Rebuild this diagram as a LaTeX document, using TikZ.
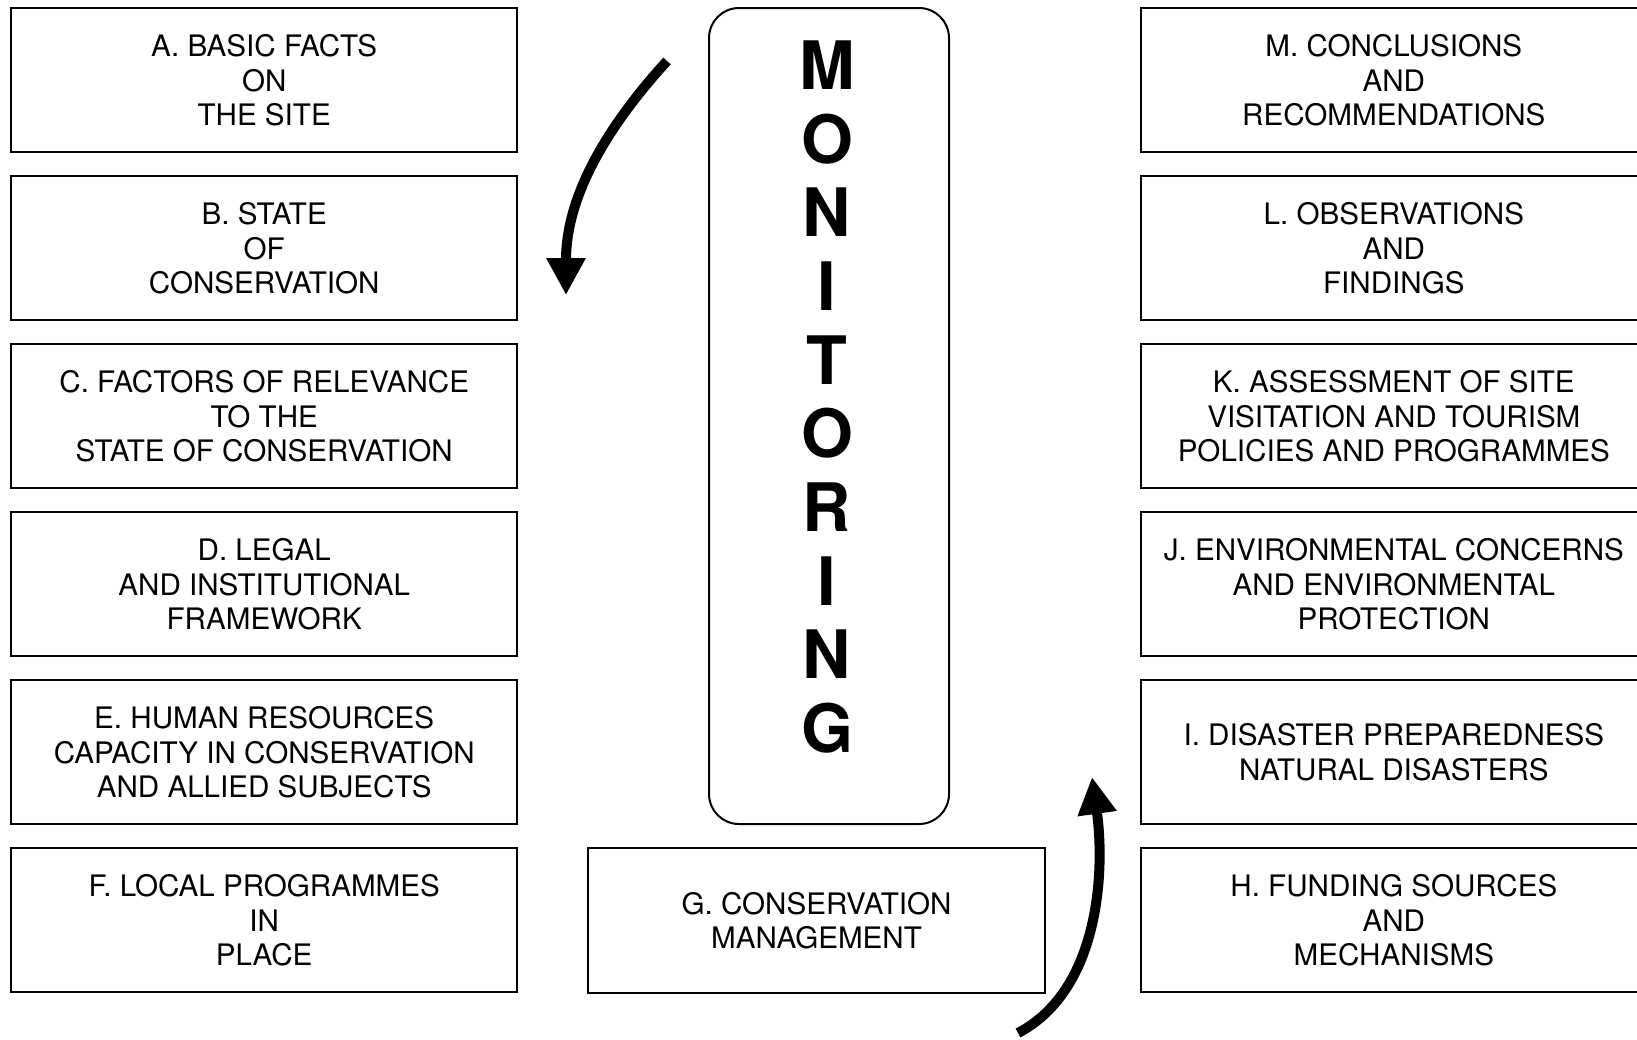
\documentclass[tikz,border=0pt]{standalone}
\usepackage{fontspec}
\setmainfont{TeX Gyre Heros}
\usetikzlibrary{
    arrows.meta,
    chains,
    positioning,
    scopes,
}
\tikzstyle{box}=[draw,rectangle,line width=1pt,align=center,font=\fontsize{14.8}{17.3}\selectfont,inner sep=1mm,minimum width=252.8pt,minimum height=72pt,execute at begin node={\rule{0pt}{14pt}}]
\tikzstyle{rect}=[box,on chain]
\tikzstyle{letter}=[font=\fontsize{33.4}{36}\selectfont\bfseries,inner sep=0pt]
\tikzstyle{bigarrow}=[line width=5pt,-{Triangle[length=18.5pt,width=18.5pt]}]

\begin{document}
\begin{tikzpicture}[x=0.5pt,y=-0.5pt]
                \useasboundingbox (0,0) rectangle (1637,1039);
                \clip (0,0) rectangle (1637,1039);
                \begin{scope}[start chain=going below,node distance=11pt]
                    \node[rect,anchor=north west] (a) at (10.4,7.3) {A. BASIC FACTS\\ON\\THE SITE};
                    \node[rect] (b) {B. STATE\\OF\\CONSERVATION};
                    \node[rect] (c) {C. FACTORS OF RELEVANCE\\TO THE\\STATE OF CONSERVATION};
                    \node[rect] (d) {D. LEGAL\\AND INSTITUTIONAL\\FRAMEWORK};
                    \node[rect] (e) {E. HUMAN RESOURCES\\CAPACITY IN CONSERVATION\\AND ALLIED SUBJECTS};
                    \node[rect] (f) {F. LOCAL PROGRAMMES\\IN\\PLACE};
                \end{scope}
                \begin{scope}[start chain=going below,node distance=11pt]
                    \node[rect,anchor=north west] (m) at (1140,7.3) {M. CONCLUSIONS\\AND\\RECOMMENDATIONS};
                    \node[rect] (l) {L. OBSERVATIONS\\AND\\FINDINGS};
                    \node[rect] (k) {K. ASSESSMENT OF SITE\\VISITATION AND TOURISM\\POLICIES AND PROGRAMMES};
                    \node[rect] (j) {J. ENVIRONMENTAL CONCERNS\\AND ENVIRONMENTAL\\PROTECTION};
                    \node[rect] (i) {I. DISASTER PREPAREDNESS\\NATURAL DISASTERS};
                    \node[rect] (h) {H. FUNDING SOURCES\\AND\\MECHANISMS};
                \end{scope}
                \node[box,anchor=north west,minimum width=228.5pt,minimum height=72.5pt] (g) at (587,847) {G. CONSERVATION\\MANAGEMENT};
                \node[draw,line width=1pt,rounded corners=15pt,anchor=north west,minimum width=120pt,minimum height=408pt] (monitor) at (708,7) {};
                \foreach \ch [count=\n] in {M,O,N,I,T,O,R,I,N,G}
                    \node[letter] (m\n) at (827,{65+73.7*(\n-1)}) {\ch};
                \coordinate (s1) at (667,61);
                \coordinate (t1) at (566,295);
                \draw[bigarrow] (s1) .. controls (615,118) and (566,190) .. (t1);
                \coordinate (s2) at (1018,1033);
                \coordinate (t2) at (1092,777);
                \draw[bigarrow] (s2) .. controls (1100,990) and (1105,870) .. (t2);
            \end{tikzpicture}
\end{document}
